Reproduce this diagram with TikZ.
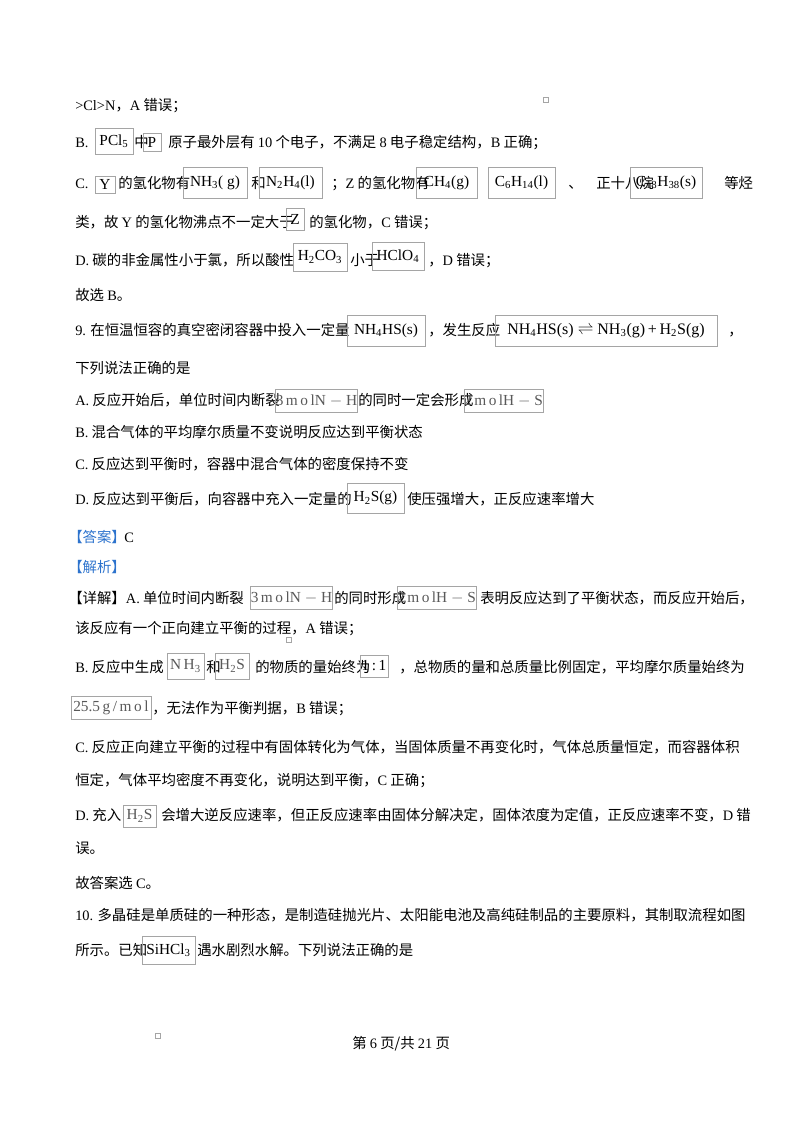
\documentclass[tikz,border=0pt]{standalone}
\usepackage{fontspec}
\setmainfont{Noto Sans CJK SC}
\newfontfamily\latf{Liberation Serif}
\newcommand{\la}[1]{{\latf #1}}
\newcommand{\sbs}[1]{\textsubscript{#1}}
\definecolor{framegray}{RGB}{165,165,165}
\definecolor{ansblue}{RGB}{45,115,205}

\begin{document}
\begin{tikzpicture}[x=0.75pt,y=-0.75pt,
    txt/.style={anchor=base west,inner sep=0pt,font=\fontsize{10.8}{13}\selectfont},
    fml/.style={draw=framegray,line width=0.5pt,inner sep=0pt,font=\latf\fontsize{11.5}{13}\selectfont},
    sz/.style 2 args={minimum width=#1*0.75pt,minimum height=#2*0.75pt},
    dot/.style={draw=framegray,line width=0.4pt,inner sep=0pt,minimum size=4pt}]
  \useasboundingbox (0,0) rectangle (800,1132);

  % end of question 8
  \begin{scope}[every node/.style={txt}]
    \node (q8a) at (75,110) {\la{>Cl>N}，\la{A} 错误；};
    \node (q8b1) at (75,147) {\la{B.}};
    \node (q8b2) at (134,147) {中};
    \node (q8b3) at (168,147) {原子最外层有 \la{10} 个电子，不满足 \la{8} 电子稳定结构，\la{B} 正确；};
    \node (q8c1) at (75,188) {\la{C.}};
    \node (q8c2) at (118,188) {的氢化物有};
    \node (q8c3) at (251,188) {和};
    \node (q8c4) at (331,188) {；\la{Z} 的氢化物有};
    \node (q8c5) at (568,188) {、};
    \node (q8c6) at (596,188) {正十八烷};
    \node (q8c7) at (724,188) {等烃};
    \node (q8c8) at (75,227) {类，故 \la{Y} 的氢化物沸点不一定大于};
    \node (q8c9) at (309,227) {的氢化物，\la{C} 错误；};
    \node (q8d1) at (75,265) {\la{D.} 碳的非金属性小于氯，所以酸性};
    \node (q8d2) at (350,265) {小于};
    \node (q8d3) at (428,265) {，\la{D} 错误；};
    \node (q8e) at (75,300) {故选 \la{B}。};
  \end{scope}
  \begin{scope}[every node/.style={fml}]
    \node[sz={38}{26}] (pcl) at (114,141) {PCl\sbs{5}};
    \node[sz={18}{18}] (p) at (152,142) {P};
    \node[sz={20}{17}] (y) at (105,184.5) {Y};
    \node[sz={64}{31}] (nh3g) at (215,182.5) {NH\sbs{3}( g)};
    \node[sz={63}{31}] (n2h4) at (290.5,182.5) {N\sbs{2}H\sbs{4}(l)};
    \node[sz={61}{31}] (ch4) at (446.5,182.5) {CH\sbs{4}(g)};
    \node[sz={67}{31}] (c6h14) at (521.5,182.5) {C\sbs{6}H\sbs{14}(l)};
    \node[sz={72}{31}] (c18) at (666,182.5) {C\sbs{18}H\sbs{38}(s)};
    \node[sz={18}{22}] (z) at (295,219) {Z};
    \node[sz={54}{28}] (h2co3) at (320,257) {H\sbs{2}CO\sbs{3}};
    \node[sz={52}{28}] (hclo4) at (398,256) {HClO\sbs{4}};
  \end{scope}

  % question 9
  \begin{scope}[every node/.style={txt}]
    \node (q9a) at (75,335) {\la{9.} 在恒温恒容的真空密闭容器中投入一定量};
    \node (q9b) at (428,335) {，发生反应};
    \node (q9c) at (728,335) {，};
    \node (q9d) at (75,373) {下列说法正确的是};
    \node (q9e1) at (75,405) {\la{A.} 反应开始后，单位时间内断裂};
    \node (q9e2) at (358,405) {的同时一定会形成};
    \node (q9f) at (75,437) {\la{B.} 混合气体的平均摩尔质量不变说明反应达到平衡状态};
    \node (q9g) at (75,469) {\la{C.} 反应达到平衡时，容器中混合气体的密度保持不变};
    \node (q9h1) at (75,504) {\la{D.} 反应达到平衡后，向容器中充入一定量的};
    \node (q9h2) at (407,504) {使压强增大，正反应速率增大};
  \end{scope}
  \begin{scope}[every node/.style={fml}]
    \node[sz={78}{31}] (nh4hs) at (386,330.5) {NH\sbs{4}HS(s)};
    \node[sz={222}{31},font=\latf\fontsize{12}{13}\selectfont] (rxn) at (606,330.5)
         {NH\sbs{4}HS(s) $\rightleftharpoons$ NH\sbs{3}(g)\,+\,H\sbs{2}S(g)};
    \node[sz={79}{23},text=black!65] (nh1) at (316.5,400.5) {3\,m\,o\,lN $-$ H};
    \node[sz={75}{23},text=black!65] (hs1) at (503.5,400.5) {2\,m\,o\,lH $-$ S};
    \node[sz={57}{30}] (h2sg) at (375.5,498) {H\sbs{2}S(g)};
  \end{scope}

  % answer and analysis
  \begin{scope}[every node/.style={txt}]
    \node[text=ansblue] (ans) at (68,542) {【答案】};
    \node (ansc) at (124,542) {\la{C}};
    \node[text=ansblue] (ana) at (68,572) {【解析】};
    \node (xa1) at (68,603) {【详解】\la{A.} 单位时间内断裂};
    \node (xa2) at (334,603) {的同时形成};
    \node (xa3) at (480,603) {表明反应达到了平衡状态，而反应开始后，};
    \node (xa4) at (75,633) {该反应有一个正向建立平衡的过程，\la{A} 错误；};
    \node (xb1) at (75,672) {\la{B.} 反应中生成};
    \node (xb2) at (206,672) {和};
    \node (xb3) at (255,672) {的物质的量始终为};
    \node (xb4) at (399,672) {，总物质的量和总质量比例固定，平均摩尔质量始终为};
    \node (xb5) at (152,713) {，无法作为平衡判据，\la{B} 错误；};
    \node (xc1) at (75,752) {\la{C.} 反应正向建立平衡的过程中有固体转化为气体，当固体质量不再变化时，气体总质量恒定，而容器体积};
    \node (xc2) at (75,785) {恒定，气体平均密度不再变化，说明达到平衡，\la{C} 正确；};
    \node (xd1) at (75,820) {\la{D.} 充入};
    \node (xd2) at (161,820) {会增大逆反应速率，但正反应速率由固体分解决定，固体浓度为定值，正反应速率不变，\la{D} 错};
    \node (xd3) at (75,853) {误。};
    \node (xe) at (75,888) {故答案选 \la{C}。};
  \end{scope}
  \begin{scope}[every node/.style={fml}]
    \node[sz={79}{23},text=black!65] (nh2) at (291.5,597.5) {3\,m\,o\,lN $-$ H};
    \node[sz={75}{23},text=black!65] (hs2) at (436.5,597.5) {2\,m\,o\,lH $-$ S};
    \node[sz={37}{26},text=black!65] (nh3) at (185.5,666) {N\,H\sbs{3}};
    \node[sz={34}{26},text=black!65] (h2s) at (232,666) {H\sbs{2}S};
    \node[sz={28}{22}] (ratio) at (374,666) {1\,:\,1};
    \node[sz={80}{23},text=black!65] (molar) at (111,707.5) {25.5\,g\,/\,m\,o\,l};
    \node[sz={33}{22},text=black!65] (h2sb) at (139.5,816) {H\sbs{2}S};
  \end{scope}

  % question 10
  \begin{scope}[every node/.style={txt}]
    \node (q10a) at (75,920) {\la{10.} 多晶硅是单质硅的一种形态，是制造硅抛光片、太阳能电池及高纯硅制品的主要原料，其制取流程如图};
    \node (q10b) at (75,955) {所示。已知};
    \node (q10c) at (197,955) {遇水剧烈水解。下列说法正确的是};
    \node (foot) at (352,1048) {第 \la{6} 页/共 \la{21} 页};
  \end{scope}
  \node[fml,sz={53}{28}] (sihcl3) at (168.5,950) {SiHCl\sbs{3}};

  % stray marks
  \node[dot] (m1) at (546,100) {};
  \node[dot] (m2) at (289,640) {};
  \node[dot] (m3) at (158,1036) {};
\end{tikzpicture}
\end{document}
